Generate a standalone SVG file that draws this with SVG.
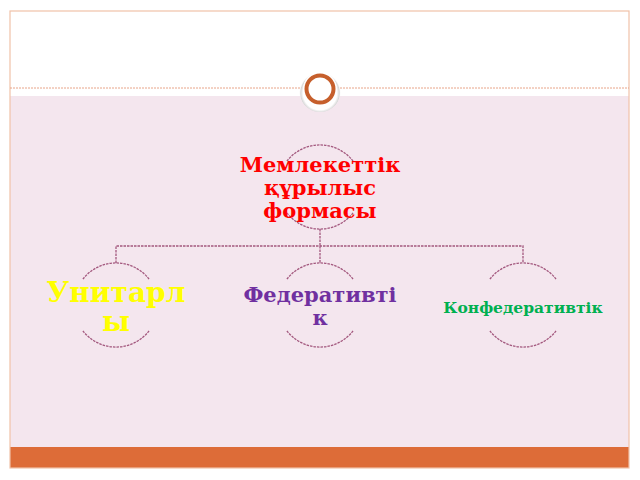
<svg xmlns="http://www.w3.org/2000/svg" width="640" height="480" viewBox="0 0 640 480">
<defs>
<style>
.node{fill:none;stroke:#a3587e;stroke-width:1.3;stroke-dasharray:2.5,1}
.conn{fill:none;stroke:#a3587e;stroke-width:1.3;stroke-dasharray:2.5,1}
.lbl{font-family:"DejaVu Serif","Liberation Serif",serif;font-weight:bold;text-anchor:middle}
</style>
<radialGradient id="halo" cx="0.5" cy="0.55" r="0.5">
<stop offset="0.8" stop-color="#ffffff"/>
<stop offset="0.92" stop-color="#d8d8d8"/>
<stop offset="1" stop-color="#ffffff" stop-opacity="0"/>
</radialGradient>
</defs>
<rect x="0" y="0" width="640" height="480" fill="#ffffff"/>
<rect x="10" y="96" width="619" height="352" fill="#f4e6ee"/>
<rect x="10" y="447" width="619" height="21" fill="#dd6c38"/>
<rect x="10" y="11" width="619" height="457" fill="none" stroke="#f0c2a8" stroke-width="1.2"/>
<line x1="10" y1="88" x2="303" y2="88" stroke="#e8a488" stroke-width="1" stroke-dasharray="2,1"/>
<line x1="337" y1="88" x2="629" y2="88" stroke="#e8a488" stroke-width="1" stroke-dasharray="2,1"/>
<g id="ornament">
<circle cx="320" cy="91" r="21" fill="url(#halo)"/>
<circle cx="320" cy="89" r="17" fill="#ffffff"/>
<circle cx="320" cy="89" r="13.5" fill="#ffffff" stroke="#c65f2c" stroke-width="4"/>
</g>
<g id="connectors">
<path class="conn" d="M320,229 V246 M116,263 V246 H523 V263 M320,246 V263"/>
</g>
<g id="node-root">
<path class="node" d="M286.9,161.1 A42 42 0 0 1 353.1,161.1 M286.9,212.9 A42 42 0 0 0 353.1,212.9"/>
<text class="lbl" x="320" y="172" font-size="21" fill="#ff0000">Мемлекеттік</text>
<text class="lbl" x="320" y="195" font-size="21" fill="#ff0000">құрылыс</text>
<text class="lbl" x="320" y="218" font-size="21" fill="#ff0000">формасы</text>
</g>
<g id="node-unitary">
<path class="node" d="M82.9,279.1 A42 42 0 0 1 149.1,279.1 M82.9,330.9 A42 42 0 0 0 149.1,330.9"/>
<text class="lbl" x="116" y="302" font-size="28" fill="#ffff00">Унитарл</text>
<text class="lbl" x="116" y="331" font-size="28" fill="#ffff00">ы</text>
</g>
<g id="node-federative">
<path class="node" d="M286.9,279.1 A42 42 0 0 1 353.1,279.1 M286.9,330.9 A42 42 0 0 0 353.1,330.9"/>
<text class="lbl" x="320" y="302" font-size="21" fill="#7030a0">Федеративті</text>
<text class="lbl" x="320" y="325" font-size="21" fill="#7030a0">к</text>
</g>
<g id="node-confederative">
<path class="node" d="M489.9,279.1 A42 42 0 0 1 556.1,279.1 M489.9,330.9 A42 42 0 0 0 556.1,330.9"/>
<text class="lbl" x="523" y="313" font-size="15.5" fill="#00b050">Конфедеративтік</text>
</g>
</svg>
